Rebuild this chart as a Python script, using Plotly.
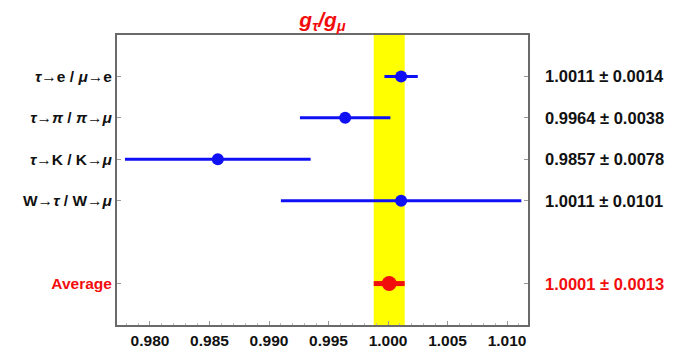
import plotly.graph_objects as go

# Lepton-universality ratios g_tau / g_mu
labels = ["<i>τ</i>→e / <i>μ</i>→e",
          "<i>τ</i>→<i>π</i> / <i>π</i>→<i>μ</i>",
          "<i>τ</i>→K / K→<i>μ</i>",
          "W→<i>τ</i> / W→<i>μ</i>"]
values = [1.0011, 0.9964, 0.9857, 1.0011]
errors = [0.0014, 0.0038, 0.0078, 0.0101]
rows = [0, 1, 2, 3]

avg_label = "Average"
avg_value = 1.0001
avg_error = 0.0013
avg_row = 5

x_ticks = [0.980, 0.985, 0.990, 0.995, 1.000, 1.005, 1.010]

BLUE = "#1010f5"
RED = "#f20d0d"
FONT = "Liberation Sans"
FS = 15.5
FS_VAL = 16.5

fig = go.Figure()

# band showing the average +/- its uncertainty
fig.add_shape(type="rect", xref="x", yref="paper",
              x0=avg_value - avg_error, x1=avg_value + avg_error,
              y0=0, y1=1, fillcolor="#ffff00", line_width=0, layer="below")

fig.add_trace(go.Scatter(
    x=values, y=rows, mode="markers",
    marker=dict(color=BLUE, size=12),
    error_x=dict(type="data", array=errors, symmetric=True,
                 color=BLUE, thickness=3, width=0),
    showlegend=False))

fig.add_trace(go.Scatter(
    x=[avg_value], y=[avg_row], mode="markers",
    marker=dict(color=RED, size=15),
    error_x=dict(type="data", array=[avg_error], symmetric=True,
                 color=RED, thickness=5, width=0),
    showlegend=False))

# value annotations on the right
for v, e, r in zip(values, errors, rows):
    fig.add_annotation(x=1, xref="paper", y=r, yref="y", xanchor="left",
                       xshift=15, showarrow=False,
                       text=f"{v:.4f} ± {e:.4f}",
                       font=dict(family=FONT, size=FS_VAL, color="#111111", weight="bold"))
fig.add_annotation(x=1, xref="paper", y=avg_row, yref="y", xanchor="left",
                   xshift=15, showarrow=False,
                   text=f"{avg_value:.4f} ± {avg_error:.4f}",
                   font=dict(family=FONT, size=FS_VAL, color=RED, weight="bold"))

tick_text = labels + [f"<span style='color:{RED}'>{avg_label}</span>"]

fig.update_layout(
    width=675, height=349,
    margin=dict(l=117, r=147, t=35, b=24),
    paper_bgcolor="white", plot_bgcolor="white",
    title=dict(text="<i>g<sub>τ</sub>/g<sub>μ</sub></i>",
               x=0.5, xref="paper", xanchor="center", y=0.945, yanchor="middle",
               font=dict(family=FONT, size=21, color=RED, weight="bold")),
    xaxis=dict(range=[0.97723, 1.01176], tickvals=x_ticks,
               ticktext=[f"{t:.3f}" for t in x_ticks],
               showgrid=False, zeroline=False, automargin=False,
               showline=True, linecolor="#6a6a6a", linewidth=2, mirror=True,
               ticks="inside", ticklen=4, tickcolor="#999999",
               ticklabelstandoff=0,
               minor=dict(dtick=0.001, ticks="inside", ticklen=2, tickcolor="#bbbbbb"),
               tickfont=dict(family=FONT, size=FS, color="#111111", weight="bold")),
    yaxis=dict(range=[6, -1], tickvals=rows + [avg_row], ticktext=tick_text,
               showgrid=False, zeroline=False, automargin=False,
               showline=True, linecolor="#6a6a6a", linewidth=2, mirror="ticks",
               ticks="inside", ticklen=4, tickcolor="#999999",
               tickfont=dict(family=FONT, size=FS, color="#111111", weight="bold")),
)

fig.write_html("out.html")
